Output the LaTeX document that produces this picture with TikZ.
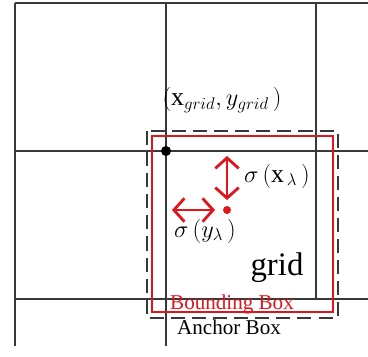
\documentclass[tikz,border=0pt]{standalone}
\usepackage{fontspec}
\setmainfont{Liberation Serif}
\usepackage{xcolor}
\definecolor{boxred}{HTML}{E0161C}
\definecolor{gridgray}{HTML}{383838}
\usepackage{tikz}
\usetikzlibrary{arrows.meta}

\begin{document}
\begin{tikzpicture}[x=0.03cm, y=-0.03cm,
  gridline/.style={gridgray, line width=1.7pt},
  sigmaarrow/.style={boxred, line width=2.4pt,
    {Straight Barb[length=9pt,width=20pt]}-{Straight Barb[length=9pt,width=20pt]}},
  lbl/.style={font=\fontsize{18}{20}\selectfont, inner sep=0pt},
  mathlbl/.style={font=\fontsize{22}{24}\selectfont, inner sep=0pt}]
  \useasboundingbox (0,0) rectangle (368,356);
  % raster
  \foreach \y in {3,151,299}
    \draw[gridline] (15,\y) -- (368,\y);
  \draw[gridline] (15,3) -- (15,346);
  \draw[gridline] (166,3) -- (166,346);
  \draw[gridline] (316,3) -- (316,299);
  % anchor box
  \draw[gridgray, line width=1.9pt, dash pattern=on 12pt off 6pt]
    (147,131) rectangle (338,318);
  % bounding box
  \draw[boxred, line width=1.9pt] (152,136) rectangle (333,312);
  % punkte
  \fill[black] (166,151) circle (4.3pt) coordinate (corner);
  \fill[boxred] (227,210) circle (3.4pt) coordinate (center);
  \coordinate (up) at (227,156);
  \coordinate (upend) at (227,200);
  \coordinate (left) at (172,210);
  \coordinate (leftend) at (215,210);
  \draw[sigmaarrow] (up) -- (upend);
  \draw[sigmaarrow] (left) -- (leftend);
  % beschriftung
  \node[mathlbl] (gridpos) at (222,100) {$(\mathrm{x}_{grid}, y_{grid}\,)$};
  \node[mathlbl] (sigx) at (277,176) {$\sigma\,(\mathrm{x}_{\,\lambda}\,)$};
  \node[mathlbl] (sigy) at (205,231) {$\sigma\,(y_{\lambda}\,)$};
  \node[font=\fontsize{28}{30}\selectfont, inner sep=0pt] (gridlbl) at (277,268) {grid};
  \node[lbl, boxred] (bboxlbl) at (232,304) {Bounding Box};
  \node[lbl] (aboxlbl) at (229,327) {Anchor Box};
\end{tikzpicture}
\end{document}
